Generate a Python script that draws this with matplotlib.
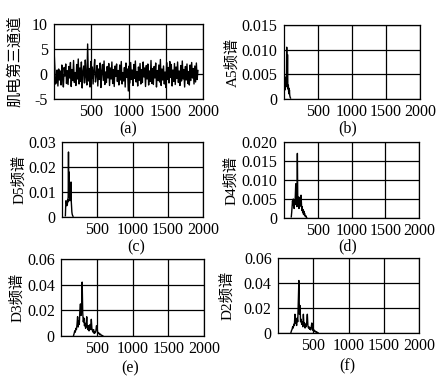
import numpy as np
import matplotlib
matplotlib.use("Agg")
import matplotlib.pyplot as plt
import matplotlib.transforms as mtransforms

FONT = ["Liberation Serif", "Noto Sans CJK SC"]

# (a) raw EMG channel 3, one value every 10.5 samples
emg = [
    5.0, 1.5, -2.0, -1.6, 0.8, -2.4, 1.0, -1.2, 0.6, -2.2,
    1.8, -0.9, -2.6, 1.3, -0.4, 2.0, -1.9, 0.7, -2.1, 1.5,
    -0.8, 2.3, -2.5, 0.9, -1.3, 2.7, -1.7, 0.3, -2.3, 1.9,
    -1.0, 3.0, -2.0, 1.2, -1.5, 2.4, -2.8, 0.5, 1.6, -1.8,
    2.8, -0.6, -2.2, 6.0, -1.4, 1.1, -2.6, 2.5, -0.9, 1.4,
    -2.0, 0.8, 2.9, -1.6, -0.3, 1.7, -2.4, 1.0, -1.1, 2.2,
    -2.7, 0.6, 1.9, -1.3, 2.6, -2.1, 0.4, -1.7, 1.5, -0.8,
    2.1, -2.3, 1.2, -1.0, 2.4, -1.9, 0.9, -2.5, 1.6, -0.5,
    2.0, -1.5, 0.7, -2.2, 1.8, -1.2, 2.5, -2.0, 0.3, -1.4,
    1.3, -2.6, 2.2, -0.7, 1.0, -3.4, 1.6, -1.8, 2.3, -1.1,
    0.8, -2.3, 1.9, -0.9, 2.6, -1.6, 0.5, -2.4, 1.4, -1.3,
    2.1, -2.0, 0.9, -1.7, 2.4, -0.6, 1.2, -2.5, 1.7, -1.0,
    2.0, -2.2, 0.6, -1.5, 2.7, -1.9, 1.1, -2.1, 1.5, -0.8,
    2.2, -2.6, 0.7, -1.3, 1.8, -1.6, 2.9, -2.3, 1.0, -1.2,
    1.6, -2.0, 0.4, -2.7, 2.3, -1.1, 1.3, -1.8, 2.5, -0.7,
    1.9, -2.4, 0.8, -1.5, 2.1, -2.1, 1.4, -0.9, 2.4, -1.7,
    0.6, -2.3, 1.7, -1.4, 2.6, -1.0, 0.9, -2.6, 1.5, -1.2,
    2.0, -1.9, 0.5, -2.2, 1.8, -1.3, 2.3, -0.8, 1.1, -2.0,
    1.6, -1.6, 2.2, -1.1, 0.7,
]
emg_step = 10.5

# spectra: first frequency, step, amplitudes
a5_start, a5_step = 0, 4
a5 = [0.0003, 0.0015, 0.0025, 0.0018, 0.003, 0.0022, 0.0035, 0.0028, 0.0045,
      0.0030, 0.0105, 0.0025, 0.0040, 0.0090, 0.0030, 0.0020, 0.0028, 0.0015,
      0.0022, 0.0010, 0.0018, 0.0008, 0.0005, 0.0003, 0.0002]

d5_start, d5_step = 48, 4
d5 = [0.0005, 0.004, 0.0065, 0.0055, 0.006, 0.0045, 0.0062, 0.005, 0.007,
      0.006, 0.0085, 0.026, 0.008, 0.018, 0.009, 0.011, 0.0065, 0.010, 0.007,
      0.0085, 0.014, 0.006, 0.004, 0.002, 0.0012, 0.0008, 0.0005, 0.0003]

d4_start, d4_step = 108, 6
d4 = [0.0003, 0.0015, 0.003, 0.0045, 0.0035, 0.005, 0.004, 0.0025, 0.0045,
      0.0035, 0.006, 0.009, 0.004, 0.0055, 0.003, 0.017, 0.0045, 0.0035,
      0.0055, 0.0025, 0.004, 0.003, 0.0055, 0.0035, 0.006, 0.004, 0.002,
      0.003, 0.0015, 0.0022, 0.001, 0.0018, 0.0008, 0.0012, 0.0005, 0.0004,
      0.0006, 0.0002, 0.0001]

d3_start, d3_step = 176, 8
d3 = [0.0005, 0.002, 0.004, 0.003, 0.006, 0.005, 0.009, 0.015, 0.007, 0.012,
      0.009, 0.020, 0.025, 0.016, 0.022, 0.042, 0.018, 0.011, 0.014, 0.008,
      0.010, 0.006, 0.009, 0.015, 0.007, 0.005, 0.008, 0.004, 0.006, 0.009,
      0.005, 0.013, 0.006, 0.004, 0.003, 0.005, 0.002, 0.003, 0.0025, 0.004,
      0.008, 0.007, 0.003, 0.002, 0.0025, 0.0015, 0.001, 0.0015, 0.0008,
      0.0005, 0.0004, 0.0002]

d2_start, d2_step = 184, 8
d2 = [0.0005, 0.002, 0.003, 0.005, 0.004, 0.007, 0.006, 0.015, 0.008, 0.010,
      0.006, 0.012, 0.009, 0.025, 0.042, 0.015, 0.022, 0.009, 0.011, 0.007,
      0.009, 0.005, 0.015, 0.006, 0.008, 0.004, 0.007, 0.005, 0.009, 0.015,
      0.006, 0.004, 0.005, 0.003, 0.004, 0.0025, 0.005, 0.008, 0.004, 0.002,
      0.003, 0.0015, 0.002, 0.001, 0.0012, 0.0006, 0.0008, 0.0003, 0.0002]

W, H = 447, 384
fig = plt.figure(figsize=(W / 100, H / 100), dpi=100)


def make_ax(l, r, t, b):
    return fig.add_axes([l / W, 1 - b / H, (r - l) / W, (b - t) / H])


panels = [
    # rect (px), x, y, ylim, yticks, yticklabels, ylabel, ylabel_x, letter pos
    ((54, 203, 24, 99), np.arange(len(emg)) * emg_step, emg, (-5, 10),
     [-5, 0, 5, 10], ["-5", "0", "5", "10"], "肌电第三通道", 15, "(a)", (128, 129)),
    ((284, 420, 25, 99), a5_start + np.arange(len(a5)) * a5_step, a5, (0, 0.015),
     [0, 0.005, 0.010, 0.015], ["0", "0.005", "0.010", "0.015"], "A5频谱", 232, "(b)", (348, 128)),
    ((62, 203, 142, 217), d5_start + np.arange(len(d5)) * d5_step, d5, (0, 0.03),
     [0, 0.01, 0.02, 0.03], ["0", "0.01", "0.02", "0.03"], "D5频谱", 19, "(c)", (136, 247)),
    ((284, 419, 142, 218), d4_start + np.arange(len(d4)) * d4_step, d4, (0, 0.020),
     [0, 0.005, 0.010, 0.015, 0.020], ["0", "0.005", "0.010", "0.015", "0.020"], "D4频谱", 231, "(d)", (348, 246)),
    ((61, 204, 259, 336), d3_start + np.arange(len(d3)) * d3_step, d3, (0, 0.06),
     [0, 0.02, 0.04, 0.06], ["0", "0.02", "0.04", "0.06"], "D3频谱", 17, "(e)", (130, 368)),
    ((278, 419, 258, 333), d2_start + np.arange(len(d2)) * d2_step, d2, (0, 0.06),
     [0, 0.02, 0.04, 0.06], ["0", "0.02", "0.04", "0.06"], "D2频谱", 227, "(f)", (347, 366)),
]

shift = mtransforms.ScaledTranslation(-3 / 100, 0, fig.dpi_scale_trans)

for rect, xs, ys, ylim, yt, ytl, ylab, ylx, letter, lpos in panels:
    ax = make_ax(*rect)
    ax.plot(xs, ys, color="black", lw=1.0)
    ax.set_xlim(0, 2000)
    ax.set_ylim(*ylim)
    ax.set_xticks([500, 1000, 1500, 2000])
    ax.set_xticklabels(["500", "1000", "1500", "2000"], family=FONT, fontsize=11.5)
    for lab in ax.get_xticklabels():
        lab.set_transform(lab.get_transform() + shift)
    ax.set_yticks(yt)
    ax.set_yticklabels(ytl, family=FONT, fontsize=11.5)
    ax.tick_params(axis="x", length=0, pad=3.5)
    ax.tick_params(axis="y", length=0, pad=4.5)
    ax.grid(True, color="black", lw=0.9)
    ax.set_axisbelow(True)
    for s in ax.spines.values():
        s.set_color("black")
        s.set_linewidth(0.9)
    l, r, t, b = rect
    fig.text(ylx / W, 1 - (t + b) / 2 / H, ylab, rotation=90, ha="center",
             va="center", family=FONT, fontsize=11)
    fig.text(lpos[0] / W, 1 - lpos[1] / H, letter, ha="center", va="center",
             family=FONT, fontsize=11.5)

fig.savefig("out.png", dpi=100)
